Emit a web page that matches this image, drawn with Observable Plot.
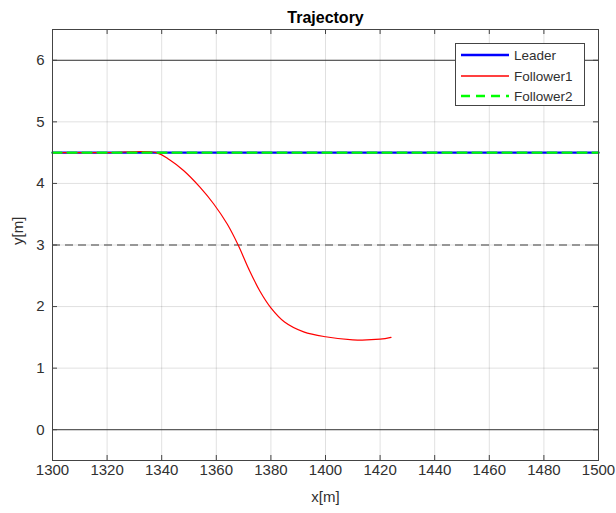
<!DOCTYPE html>
<html><head><meta charset="utf-8">
<script src="https://cdn.jsdelivr.net/npm/d3@7"></script>
<script src="https://cdn.jsdelivr.net/npm/@observablehq/plot@0.6"></script>
<style>
body{margin:0;background:#fff;font-family:"Liberation Sans",Arial,sans-serif;}
#wrap{position:relative;width:616px;height:513px;}
#legend{position:absolute;left:455px;top:43px;}
</style></head><body><div id="wrap"></div>
<script>
const leaderX = [1300, 1500];
const leaderY = [4.5, 4.5];
const follower1X = [1300, 1320, 1338, 1343, 1348, 1354, 1359, 1364, 1368, 1372, 1376, 1380, 1385, 1392, 1400, 1410, 1420, 1424];
const follower1Y = [4.5, 4.5, 4.5, 4.38, 4.21, 3.94, 3.67, 3.34, 3.0, 2.60, 2.25, 1.98, 1.75, 1.59, 1.51, 1.46, 1.47, 1.50];
const follower2X = [1300, 1500];
const follower2Y = [4.5, 4.5];
const xTicks = [1300, 1320, 1340, 1360, 1380, 1400, 1420, 1440, 1460, 1480, 1500];
const yTicks = [0, 1, 2, 3, 4, 5, 6];
const solidRefY = [0, 6];
const dashedRefY = [3];
const seriesNames = ["Leader", "Follower1", "Follower2"];
const seriesColors = ["#0000ff", "#ff0000", "#00ff00"];

const W = 616, H = 513, mL = 52, mR = 18, mT = 29, mB = 53;
const pw = W - mL - mR, ph = H - mT - mB;
const toRows = (xs, ys) => xs.map((x, i) => ({x, y: ys[i]}));
const lead = toRows(leaderX, leaderY);
const f1 = toRows(follower1X, follower1Y);
const f2 = toRows(follower2X, follower2Y);

const axColor = "#444";
const txtColor = "#303030";
const chart = Plot.plot({
  width: W, height: H,
  marginLeft: mL, marginRight: mR, marginTop: mT, marginBottom: mB,
  style: {fontFamily: '"Liberation Sans", Arial, sans-serif', fontSize: "15px", color: txtColor, background: "#fff"},
  x: {domain: [1300, 1500], axis: null},
  y: {domain: [-0.5, 6.5], axis: null},
  marks: [
    Plot.gridX(xTicks, {stroke: "#000", strokeOpacity: 0.12}),
    Plot.gridY(yTicks, {stroke: "#000", strokeOpacity: 0.12}),
    Plot.ruleY(solidRefY, {stroke: "#3a3a3a", strokeWidth: 1}),
    Plot.ruleY(dashedRefY, {stroke: "#7a7a7a", strokeWidth: 1.6, strokeDasharray: "8,5"}),
    Plot.line(lead, {x: "x", y: "y", stroke: seriesColors[0], strokeWidth: 2.2}),
    Plot.line(f1, {x: "x", y: "y", stroke: seriesColors[1], strokeWidth: 1.2, curve: "catmull-rom"}),
    Plot.line(f2, {x: "x", y: "y", stroke: seriesColors[2], strokeWidth: 2.2, strokeDasharray: "9,6"}),
    Plot.tickX(xTicks, {x: d => d, insetTop: ph - 5, stroke: axColor}),
    Plot.tickX(xTicks, {x: d => d, insetBottom: ph - 5, stroke: axColor}),
    Plot.tickY(yTicks, {y: d => d, insetRight: pw - 5, stroke: axColor}),
    Plot.tickY(yTicks, {y: d => d, insetLeft: pw - 5, stroke: axColor}),
    Plot.frame({stroke: axColor}),
    Plot.axisX(xTicks, {tickSize: 0, tickPadding: 4, fill: txtColor, fontSize: 15, label: null, tickFormat: d => String(d)}),
    Plot.axisY(yTicks, {tickSize: 0, tickPadding: 8, fill: txtColor, fontSize: 15, label: null, tickFormat: d => String(d)}),
    Plot.text(["Trajectory"], {frameAnchor: "top", dy: -12, lineAnchor: "middle", fontWeight: "bold", fontSize: 16, fill: "#000"}),
    Plot.text(["x[m]"], {frameAnchor: "bottom", dy: 37, lineAnchor: "middle", fontSize: 15, fill: txtColor}),
    Plot.text(["y[m]"], {frameAnchor: "left", dx: -34, rotate: -90, fontSize: 15, fill: txtColor})
  ]
});
const wrap = document.getElementById("wrap");
wrap.appendChild(chart);

// legend overlay
const lw = 130, lh = 63, rowY = [12, 33, 53];
const leg = d3.select(wrap).append("svg").attr("id", "legend").attr("width", lw).attr("height", lh);
leg.append("rect").attr("x", 0.5).attr("y", 0.5).attr("width", lw - 1).attr("height", lh - 1)
  .attr("fill", "#fff").attr("stroke", axColor);
seriesNames.forEach((name, i) => {
  const ln = leg.append("line").attr("x1", 6).attr("x2", 54).attr("y1", rowY[i]).attr("y2", rowY[i])
    .style("stroke", seriesColors[i]).style("stroke-width", i === 1 ? 1.4 : 2.4);
  if (i === 2) ln.style("stroke-dasharray", "9,6");
  leg.append("text").attr("x", 59).attr("y", rowY[i]).attr("dy", "0.35em")
    .attr("font-family", '"Liberation Sans", Arial, sans-serif').attr("font-size", 13.5)
    .attr("fill", txtColor).text(name);
});
</script></body></html>
